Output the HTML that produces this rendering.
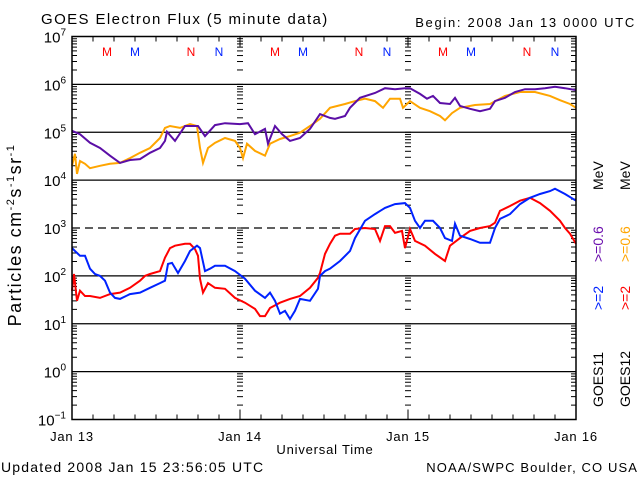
<!DOCTYPE html>
<html><head><meta charset="utf-8"><style>
body{margin:0;background:#fff;}
svg{display:block;font-family:"Liberation Sans",sans-serif;}
</style></head><body>
<svg id="chart" width="640" height="480" viewBox="0 0 640 480" xmlns="http://www.w3.org/2000/svg">
<rect x="0" y="0" width="640" height="480" fill="#fff"/>
<text x="41" y="24" font-size="15" letter-spacing="1.4">GOES Electron Flux (5 minute data)</text>
<text x="636" y="27" font-size="13" letter-spacing="1.7" text-anchor="end">Begin: 2008 Jan 13 0000 UTC</text>
<g id="grid"></g>
<g id="ticks"></g>
<g id="series"></g>
<rect x="72" y="36.5" width="504" height="383" fill="none" stroke="#000" stroke-width="1.5"/>
<g id="labels"></g>
<text transform="translate(21,235) rotate(-90)" font-size="18" letter-spacing="1.5" text-anchor="middle">Particles cm<tspan font-size="11" dy="-7">-2</tspan><tspan dy="7">s</tspan><tspan font-size="11" dy="-7">-1</tspan><tspan dy="7">sr</tspan><tspan font-size="11" dy="-7">-1</tspan></text>
<text x="325" y="454" font-size="13" letter-spacing="0.8" text-anchor="middle">Universal Time</text>
<text x="1" y="472" font-size="14" letter-spacing="1.2">Updated 2008 Jan 15 23:56:05 UTC</text>
<text x="638" y="472" font-size="13" letter-spacing="1.1" text-anchor="end">NOAA/SWPC Boulder, CO USA</text>
<g font-size="14">
<text transform="translate(603,407) rotate(-90)" fill="#000">GOES11</text>
<text transform="translate(603,310) rotate(-90)" fill="#0022ff">&gt;=2</text>
<text transform="translate(603,262) rotate(-90)" fill="#6a0dad">&gt;=0.6</text>
<text transform="translate(603,190) rotate(-90)" fill="#000">MeV</text>
</g>
<g font-size="14">
<text transform="translate(630,407) rotate(-90)" fill="#000">GOES12</text>
<text transform="translate(630,310) rotate(-90)" fill="#ff0000">&gt;=2</text>
<text transform="translate(630,262) rotate(-90)" fill="#ffa500">&gt;=0.6</text>
<text transform="translate(630,190) rotate(-90)" fill="#000">MeV</text>
</g>
</svg>
<script>
// ---- data (hours since 2008 Jan 13 00:00 UTC, log10 flux) ----
const dayLabels = ["Jan 13","Jan 14","Jan 15","Jan 16"];
const yTickExps = [7,6,5,4,3,2,1,0,-1];
const mnLabels = ["M","M","N","N","M","M","N","N","M","M","N","N"];
const mnHours = [5,9,17,21,29,33,41,45,53,57,65,69];
const mnColors = ["#ff0000","#0022ff","#ff0000","#0022ff","#ff0000","#0022ff","#ff0000","#0022ff","#ff0000","#0022ff","#ff0000","#0022ff"];

const g11lowHours = [0,1.14,2.57,4,5.43,6.86,8.29,9.71,11.14,12.57,13.29,13.57,14.71,16.14,18,19,20.43,21.86,24,25.14,26.14,27.57,28,29,30,31.14,32.57,34,35.43,36.86,37.57,39,39.71,41.14,43.29,44.71,46.14,47.57,48.29,49.71,50.71,51.57,52.57,54,54.71,55.43,56.86,58.29,59.71,60.43,61.86,63.29,64.71,66.14,67.57,69,70.43,72];
const g11lowLog = [5.03,4.96,4.78,4.67,4.51,4.36,4.42,4.44,4.57,4.67,4.82,5.01,4.82,5.13,5.13,4.92,5.15,5.19,5.17,5.19,4.96,5.07,4.76,5.13,4.96,4.82,4.88,5.07,5.38,5.30,5.28,5.34,5.51,5.72,5.82,5.92,5.90,5.92,5.92,5.80,5.70,5.76,5.61,5.59,5.72,5.55,5.49,5.44,5.49,5.65,5.72,5.84,5.90,5.90,5.92,5.95,5.92,5.88];

const g12lowHours = [0,0.43,0.71,1.14,1.86,2.57,4,5.43,6.86,8.29,9.71,11.14,12.57,13.29,14,15.43,16.86,17.86,18.29,18.71,19.43,20.43,21.86,23.29,24,24.43,25,26.14,27.57,28.29,29.71,31.14,32.57,34,35.43,36.86,39,40.43,41.86,43.29,44.43,45.43,46.86,47.29,48.29,49.71,51.14,52.57,53.29,54.29,55.43,57.57,59.71,61.86,64,66.14,68.29,69.71,71.14,72];
const g12lowLog = [4.30,4.55,4.13,4.40,4.34,4.25,4.30,4.34,4.36,4.46,4.57,4.67,4.88,5.09,5.13,5.09,5.17,5.13,4.67,4.36,4.67,4.78,4.88,4.82,4.67,4.46,4.76,4.61,4.51,4.76,4.86,4.92,4.99,5.13,5.28,5.51,5.59,5.65,5.70,5.65,5.51,5.70,5.70,5.51,5.65,5.51,5.44,5.34,5.25,5.40,5.51,5.57,5.59,5.76,5.84,5.84,5.76,5.67,5.59,5.51];

const g11highHours = [0,0.43,1.14,1.86,2.57,3.29,4,4.71,5.43,6.14,6.86,8.29,9.71,11.14,12.57,13.29,13.71,14.29,15.14,16.14,16.86,17.86,18.29,19,19.71,20.43,21.86,23.29,24.71,26.14,27.57,28.29,29,29.71,30.43,31.14,31.86,32.57,34,35.14,35.43,36.14,36.86,38.29,39.71,40.43,41.86,43.29,44.71,46.14,47.57,48.29,49,49.71,50.43,51.57,52.57,53.29,54.29,54.71,55.43,56.86,58.29,59.71,60.43,61.14,62.57,64,65.43,66.86,68.29,69,70.43,72];
const g11highLog = [2.58,2.52,2.42,2.42,2.15,2.04,2.00,1.90,1.65,1.54,1.52,1.62,1.65,1.75,1.85,1.90,2.25,2.27,2.06,2.31,2.52,2.63,2.58,2.10,2.15,2.21,2.21,2.10,1.94,1.69,1.54,1.65,1.48,1.21,1.27,1.10,1.27,1.52,1.48,1.73,2.00,2.10,2.15,2.31,2.52,2.79,3.15,3.29,3.42,3.50,3.52,3.42,3.15,3.00,3.15,3.15,3.00,2.79,2.73,3.09,2.84,2.77,2.69,2.69,3.00,3.19,3.29,3.50,3.63,3.71,3.77,3.82,3.71,3.57];

const g12highHours = [0,0.29,0.71,1.14,1.86,2.57,4,5.43,6.86,8.29,9.71,10.43,11.14,12.57,13.29,14,14.71,16.14,16.86,17.57,18,18.29,18.71,19.43,20.43,21.86,23.29,24.71,26.14,26.86,27.57,28.29,29.71,31.14,32.57,34,35.14,35.43,36.14,36.86,37.57,38.29,39.71,40.43,41.86,43.29,44,44.71,45.43,46.14,47.14,47.57,48.29,49,50.43,51.86,53.29,54,55.43,56.86,58.29,59.71,60.43,61.14,62.57,64,65.43,66.86,68.29,69.71,70.43,71.14,72];
const g12highLog = [1.69,2.04,1.48,1.69,1.58,1.58,1.54,1.62,1.65,1.75,1.90,2.00,2.04,2.10,2.38,2.58,2.63,2.67,2.67,2.56,2.42,1.94,1.65,1.85,1.75,1.73,1.54,1.44,1.31,1.16,1.16,1.33,1.44,1.52,1.58,1.75,1.96,2.06,2.46,2.67,2.84,2.88,2.88,2.98,3.00,2.98,2.73,3.04,3.04,2.90,2.94,2.58,2.98,2.73,2.63,2.46,2.31,2.63,2.79,2.94,3.00,3.04,3.11,3.36,3.46,3.57,3.63,3.52,3.36,3.15,3.00,2.88,2.67];

// ---- axes ----
const X0 = 72, X1 = 576, HMAX = 72;
const YTOP = 36.5, YBOT = 419.5, LMIN = -1, LMAX = 7;
function xScale(h){ return X0 + (h / HMAX) * (X1 - X0); }
function yScale(l){ return YBOT - (l - LMIN) / (LMAX - LMIN) * (YBOT - YTOP); }

const NS = "http://www.w3.org/2000/svg";
function mk(tag, attrs, parent){
  const e = document.createElementNS(NS, tag);
  for (const k in attrs) e.setAttribute(k, attrs[k]);
  parent.appendChild(e);
  return e;
}
const grid = document.getElementById('grid');
const ticks = document.getElementById('ticks');
const series = document.getElementById('series');
const labels = document.getElementById('labels');

yTickExps.forEach(function(ex){
  if (ex === 7 || ex === -1) return;
  const y = yScale(ex);
  const ln = mk('line', {x1: X0, x2: X1, y1: y, y2: y, stroke: '#000', 'stroke-width': 1.3}, grid);
  if (ex === 3) ln.setAttribute('stroke-dasharray', '8,5');
  
  
});

yTickExps.forEach(function(ex){
  const y = yScale(ex);
  const t = mk('text', {x: 66, y: y + 6, 'font-size': 15, 'text-anchor': 'end'}, labels);
  
  
  t.textContent = '10';
  const s = mk('tspan', {'font-size': 10, dy: -7}, t);
  s.textContent = String(ex).replace('-', '\u2212');
});

for (let d = LMIN; d < LMAX; d++){
  for (let m = 2; m <= 9; m++){
    const y = yScale(d + Math.log10(m));
    const p = mk('path', {d: 'M' + X0 + ' ' + y + 'h5M' + X1 + ' ' + y + 'h-5', stroke: '#000', 'stroke-width': 1}, ticks);
    
    
    [24, 48].forEach(function(h){
      const xc = xScale(h);
      const q = mk('line', {x1: xc - 3, x2: xc + 3, y1: y, y2: y, stroke: '#000', 'stroke-width': 1}, ticks);
      
      
    });
  }
  [24, 48].forEach(function(h){
    const xc = xScale(h);
    const y = yScale(d);
    const q = mk('line', {x1: xc - 3, x2: xc + 3, y1: y, y2: y, stroke: '#000', 'stroke-width': 1}, ticks);
    
    
  });
}

for (let h = 0; h <= HMAX; h += 3){
  const x = xScale(h);
  const len = (h % 24 === 0) ? 10 : 5;
  const p = mk('path', {d: 'M' + x + ' ' + YBOT + 'v-' + len + 'M' + x + ' ' + YTOP + 'v' + len, stroke: '#000', 'stroke-width': 1}, ticks);
  
  
}

dayLabels.forEach(function(lbl, i){
  const t = mk('text', {x: xScale(i * 24), y: 441, 'font-size': 13, 'letter-spacing': 0.8, 'text-anchor': 'middle'}, labels);
  
  
  t.textContent = lbl;
});

mnLabels.forEach(function(lbl, i){
  const t = mk('text', {x: xScale(mnHours[i]), y: 56, 'font-size': 12, 'text-anchor': 'middle', fill: mnColors[i]}, labels);
  
  
  t.textContent = lbl;
});

function drawSeries(hours, logs, color, name){
  let pts = [];
  for (let i = 0; i < hours.length; i++){
    pts.push(xScale(hours[i]).toFixed(1) + ',' + yScale(logs[i]).toFixed(1));
  }
  const pl = mk('polyline', {points: pts.join(' '), fill: 'none', stroke: color, 'stroke-width': 2, 'stroke-linejoin': 'miter'}, series);
  
  
}
drawSeries(g12lowHours, g12lowLog, '#ffa500', 'goes12-06mev-line');
drawSeries(g11lowHours, g11lowLog, '#5b0ea6', 'goes11-06mev-line');
drawSeries(g12highHours, g12highLog, '#ff0000', 'goes12-2mev-line');
drawSeries(g11highHours, g11highLog, '#0022ff', 'goes11-2mev-line');
</script>
</body></html>
